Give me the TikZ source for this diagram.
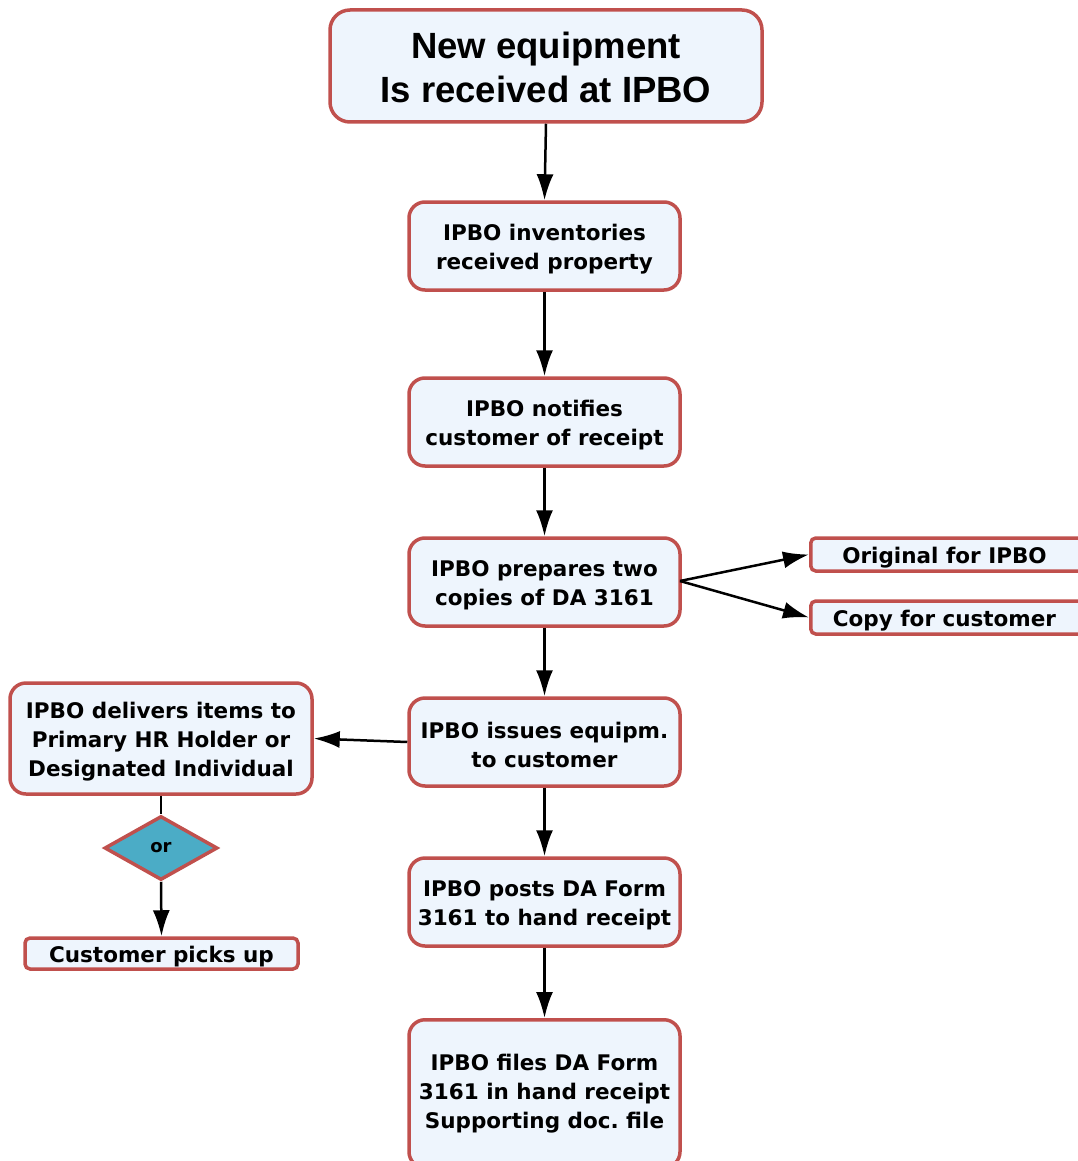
\documentclass[tikz,border=0pt]{standalone}
\usepackage{fontspec}
\setmainfont{DejaVu Sans}
\newfontfamily\titlefont{Liberation Sans}
\usetikzlibrary{arrows.meta,shapes.geometric}
\definecolor{edgered}{HTML}{C0504D}
\definecolor{boxfill}{HTML}{EEF5FD}
\definecolor{teal}{HTML}{4BACC6}
\frenchspacing
\begin{document}
\begin{tikzpicture}[x=1pt,y=-1pt,
  procbox/.style={draw=edgered,fill=boxfill,line width=3.5pt,rounded corners=16pt,inner sep=0pt},
  tagbox/.style={draw=edgered,fill=boxfill,line width=3.5pt,rounded corners=5pt,inner sep=0pt},
  txt/.style={align=center,inner sep=0pt,font=\bfseries\fontsize{21.5}{29}\selectfont},
  flow/.style={line width=2.5pt,-{Latex[length=26pt,width=17pt]}}]
\useasboundingbox (0,0) rectangle (1078,1161);
\begin{scope}
\clip (0,0) rectangle (1078,1161);
% main column boxes
\node[procbox,minimum width=432pt,minimum height=112pt,rounded corners=20pt] (start) at (546,66) {};
\node[procbox,minimum width=271pt,minimum height=88pt] (inv) at (544.5,246) {};
\node[procbox,minimum width=271pt,minimum height=88pt] (notify) at (544.5,422) {};
\node[procbox,minimum width=271pt,minimum height=88pt] (prep) at (544.5,582) {};
\node[procbox,minimum width=271pt,minimum height=88pt] (issue) at (544.5,742) {};
\node[procbox,minimum width=271pt,minimum height=88pt] (post) at (544.5,902) {};
\node[procbox,minimum width=271pt,minimum height=148pt,anchor=north] (file) at (544.5,1018) {};
% copies of the form
\node[tagbox,minimum width=273pt,minimum height=33pt,anchor=west] (orig) at (809,554.5) {};
\node[tagbox,minimum width=273pt,minimum height=33pt,anchor=west] (copy) at (809,617.5) {};
% delivery branch
\node[procbox,minimum width=302pt,minimum height=111pt] (deliver) at (161,738.5) {};
\node[diamond,draw=edgered,fill=teal,line width=3.5pt,minimum width=113pt,minimum height=64pt,
  inner sep=0pt,font=\bfseries\fontsize{18}{20}\selectfont] (or) at (161,848) {or};
\node[tagbox,minimum width=273pt,minimum height=31pt] (pick) at (161.5,953.5) {};
% box texts
\node[txt,font=\titlefont\bfseries\fontsize{36.5}{44}\selectfont] (start-t) at ([yshift=-1.5pt]start.center)
  {New equipment\\Is received at IPBO};
\node[txt] (inv-t) at ([yshift=-3pt]inv.center) {IPBO inventories\\received property};
\node[txt] (notify-t) at ([yshift=-3pt]notify.center) {IPBO notifies\\customer of receipt};
\node[txt] (prep-t) at ([yshift=-3pt]prep.center) {IPBO prepares two\\copies of DA 3161};
\node[txt] (issue-t) at ([yshift=-3pt]issue.center) {IPBO issues equipm.\\to customer};
\node[txt] (post-t) at ([yshift=-3pt]post.center) {IPBO posts DA Form\\3161 to hand receipt};
\node[txt] (file-t) at (544.5,1094) {IPBO files DA Form\\3161 in hand receipt\\Supporting doc. file};
\node[txt] (orig-t) at (944.5,558) {Original for IPBO};
\node[txt] (copy-t) at (944.5,621) {Copy for customer};
\node[txt] (deliver-t) at ([yshift=-3pt]deliver.center)
  {IPBO delivers items to\\Primary HR Holder or\\Designated Individual};
\node[txt] (pick-t) at ([yshift=-3.5pt]pick.center) {Customer picks up};
\end{scope}
% connectors
\draw[flow] (start.south) -- (inv.north);
\draw[flow] (inv.south) -- (notify.north);
\draw[flow] (notify.south) -- (prep.north);
\draw[flow] (prep.south) -- (issue.north);
\draw[flow] (issue.south) -- (post.north);
\draw[flow] (post.south) -- (file.north);
\coordinate (split) at (680,581);
\draw[flow] (split) -- (orig.west);
\draw[flow] (split) -- (copy.west);
\draw[flow] (issue.west) -- (deliver.east);
\draw[line width=2.5pt] (deliver.south) -- (or.north);
\draw[flow] (or.south) -- (pick.north);
\end{tikzpicture}
\end{document}
